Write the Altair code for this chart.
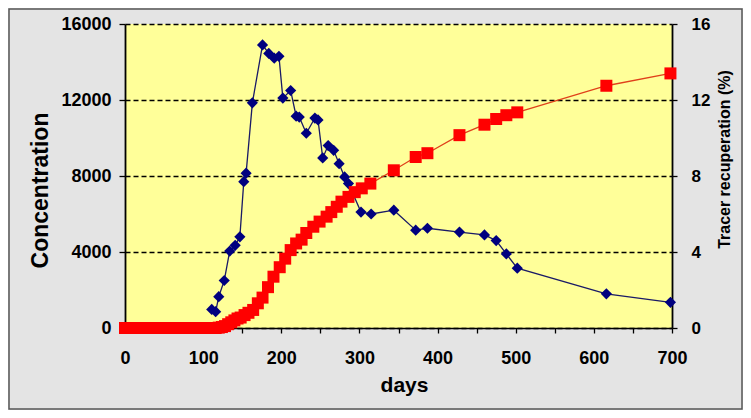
import altair as alt
import pandas as pd

# Concentration series (blue diamonds)
blue_days = [111, 116, 120, 127, 134, 141, 147, 152, 155, 163, 176, 184, 191, 197, 202,
             212, 219, 223, 232, 243, 247, 253, 260, 267, 274, 281, 286, 302, 315, 344,
             372, 387, 428, 460, 475, 488, 502, 616, 698]
blue_conc = [980, 860, 1650, 2500, 4050, 4350, 4800, 7700, 8150, 11850, 14900, 14450, 14200,
             14300, 12100, 12500, 11150, 11100, 10250, 11050, 10950, 8950, 9600, 9350, 8650,
             7950, 7600, 6100, 6000, 6200, 5150, 5250, 5050, 4900, 4600, 3900, 3150, 1800, 1350]

# Tracer recuperation series (red squares)
red_days = [0, 4, 8, 12, 16, 20, 24, 28, 32, 36, 40, 44, 48, 52, 56, 60, 64, 68, 72, 76, 80,
            84, 88, 92, 96, 100, 104, 108, 112, 116, 120, 124, 128, 132, 136, 140, 144, 148,
            153, 158, 164, 170, 176, 183, 190, 198, 205, 212, 219, 226, 232, 241, 249, 258,
            264, 271, 277, 286, 294, 303, 314, 344, 372, 387, 428, 460, 475, 488, 502, 616, 698]
red_pct = [0, 0, 0, 0, 0, 0, 0, 0, 0, 0, 0, 0, 0, 0, 0, 0, 0, 0, 0, 0, 0,
           0, 0, 0, 0, 0, 0, 0, 0, 0, 0.02, 0.05, 0.1, 0.2, 0.3, 0.4, 0.5, 0.55,
           0.68, 0.8, 0.95, 1.3, 1.6, 2.15, 2.7, 3.2, 3.65, 4.1, 4.45, 4.65, 5.0, 5.33, 5.6, 5.86,
           6.1, 6.38, 6.65, 6.9, 7.15, 7.35, 7.6, 8.3, 9.0, 9.2, 10.15, 10.7, 11.0, 11.2, 11.35,
           12.75, 13.4]

x_ticks = [0, 50, 100, 150, 200, 250, 300, 350, 400, 450, 500, 550, 600, 650, 700]
left_ticks = [0, 4000, 8000, 12000, 16000]
right_ticks = [0, 4, 8, 12, 16]

blue_df = pd.DataFrame({"days": blue_days, "conc": blue_conc})
red_df = pd.DataFrame({"days": red_days, "pct": red_pct})

FONT = "Liberation Sans"

x_enc = alt.X(
    "days:Q",
    scale=alt.Scale(domain=[0, 700], nice=False, zero=False),
    axis=alt.Axis(
        values=x_ticks,
        labelExpr="datum.value % 100 === 0 ? datum.label : ''",
        title="days",
        titleFontSize=21,
        titleFont=FONT,
        titleFontWeight="bold",
        titleColor="black",
        titleX=279,
        titleY=46,
        titleBaseline="top",
        titleAnchor="start",
        titleAlign="center",
        labelFontSize=18,
        labelFont=FONT,
        labelFontWeight="bold",
        labelColor="black",
        labelPadding=16,
        labelFlush=False,
        tickSize=5,
        tickColor="black",
        tickWidth=1.3,
        domainColor="black",
        domainWidth=1.6,
        grid=False,
    ),
)

blue_y = alt.Y(
    "conc:Q",
    scale=alt.Scale(domain=[0, 16000], nice=False),
    axis=alt.Axis(
        orient="left",
        values=left_ticks,
        format="d",
        title="Concentration",
        titleFontSize=23,
        titleFont=FONT,
        titleFontWeight="bold",
        titleColor="black",
        titleAngle=270,
        titleBaseline="bottom",
        titleAlign="center",
        titleX=-73,
        titleY=166,
        labelFontSize=18,
        labelFont=FONT,
        labelFontWeight="bold",
        labelColor="black",
        labelPadding=8,
        tickSize=6,
        tickColor="black",
        tickWidth=1.3,
        domainColor="black",
        domainWidth=1.8,
        grid=True,
        gridColor="black",
        gridDash=[5, 3],
        gridWidth=1.4,
    ),
)

red_y = alt.Y(
    "pct:Q",
    scale=alt.Scale(domain=[0, 16], nice=False),
    axis=alt.Axis(
        orient="right",
        values=right_ticks,
        format="d",
        title="Tracer recuperation (%)",
        titleFontSize=16,
        titleFont=FONT,
        titleFontWeight="bold",
        titleColor="black",
        titleAngle=270,
        titleBaseline="bottom",
        titleAlign="center",
        titleX=60,
        titleY=135,
        labelFontSize=17,
        labelFont=FONT,
        labelFontWeight="bold",
        labelColor="black",
        labelPadding=14,
        tickSize=5,
        tickColor="black",
        tickWidth=1.3,
        domainColor="black",
        domainWidth=1.8,
        grid=False,
    ),
)

# outer frame of the figure (decoration only)
frame = alt.Chart(pd.DataFrame({"f": [0]})).mark_rect(
    fill=None, stroke="#555555", strokeWidth=1.5
).encode(
    x=alt.value(-116), x2=alt.value(547 + 70),
    y=alt.value(-15), y2=alt.value(304 + 81),
)

blue_base = alt.Chart(blue_df).encode(x=x_enc, y=blue_y)
blue_layer = alt.layer(
    blue_base.mark_line(color="#1a1a66", strokeWidth=1.3),
    blue_base.mark_point(shape="diamond", filled=True, size=125, color="#00007f", opacity=1),
)

red_base = alt.Chart(red_df).encode(x=x_enc, y=red_y)
red_layer = alt.layer(
    red_base.mark_line(color="#e0401a", strokeWidth=1.3),
    red_base.mark_point(shape="square", filled=True, size=144, color="#ff0000", opacity=1),
)

chart = (
    alt.layer(blue_layer, red_layer, frame)
    .resolve_scale(y="independent")
    .properties(
        width=547,
        height=304,
        autosize=alt.AutoSizeParams(type="none"),
        padding={"left": 117, "top": 16, "right": 71, "bottom": 82},
        background="#e4e4e4",
    )
    .configure_view(fill="#ffff99", stroke=None)
)

chart.save("out.html", embed_options={"renderer": "svg", "actions": False})
